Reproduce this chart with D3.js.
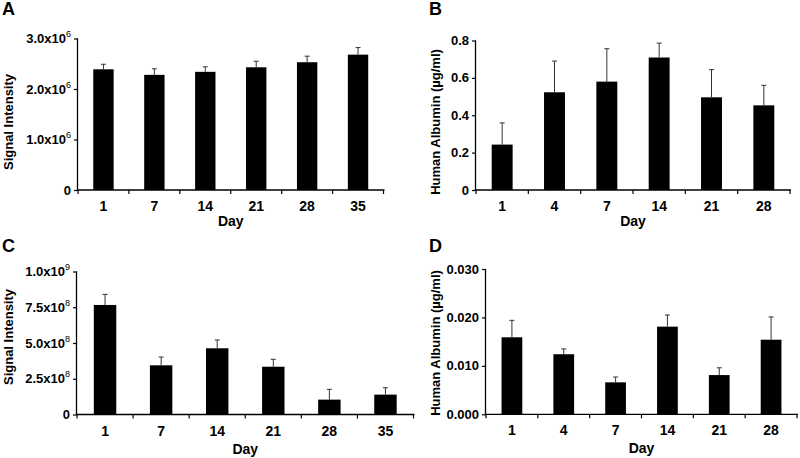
<!DOCTYPE html>
<html><head><meta charset="utf-8">
<script src="https://cdn.jsdelivr.net/npm/d3@7"></script>
<style>body{margin:0;background:#fff}svg{display:block;font-family:"Liberation Sans",Arial,sans-serif;font-weight:bold}</style>
</head><body><svg id="c" width="800" height="458"></svg>
<script>
// Panel A
const daysA = ["1","7","14","21","28","35"];
const valuesA = [2.39e6, 2.28e6, 2.34e6, 2.43e6, 2.53e6, 2.68e6];
const errorsA = [0.10e6, 0.12e6, 0.10e6, 0.12e6, 0.12e6, 0.14e6];
const ticksA = [0, 1e6, 2e6, 3e6];
const tickLabelsA = [["0",""],["1.0x10","6"],["2.0x10","6"],["3.0x10","6"]];
// Panel B
const daysB = ["1","4","7","14","21","28"];
const valuesB = [0.243, 0.523, 0.58, 0.709, 0.496, 0.453];
const errorsB = [0.116, 0.167, 0.176, 0.077, 0.148, 0.107];
const ticksB = [0, 0.2, 0.4, 0.6, 0.8];
const tickLabelsB = [["0",""],["0.2",""],["0.4",""],["0.6",""],["0.8",""]];
// Panel C
const daysC = ["1","7","14","21","28","35"];
const valuesC = [7.66e8, 3.44e8, 4.63e8, 3.34e8, 1.04e8, 1.39e8];
const errorsC = [0.74e8, 0.58e8, 0.58e8, 0.52e8, 0.72e8, 0.48e8];
const ticksC = [0, 2.5e8, 5e8, 7.5e8, 1e9];
const tickLabelsC = [["0",""],["2.5x10","8"],["5.0x10","8"],["7.5x10","8"],["1.0x10","9"]];
// Panel D
const daysD = ["1","4","7","14","21","28"];
const valuesD = [0.0159, 0.0124, 0.0066, 0.0181, 0.0081, 0.0154];
const errorsD = [0.0035, 0.0011, 0.0011, 0.0024, 0.0015, 0.0047];
const ticksD = [0, 0.01, 0.02, 0.03];
const tickLabelsD = [["0.000",""],["0.010",""],["0.020",""],["0.030",""]];

const svg = d3.select("#c");

function panel(o){
  const g = svg.append("g");
  const x = d3.scaleBand().domain(o.days).range([o.x0, o.x1]).paddingInner(0.6).paddingOuter(0.3);
  const y = d3.scaleLinear().domain([0, o.ticks[o.ticks.length-1]]).range([o.y0, o.y1]);
  // bars
  g.selectAll("rect.bar").data(o.values).join("rect")
    .attr("x", (d,i)=>x(o.days[i])).attr("width", x.bandwidth())
    .attr("y", d=>y(d)).attr("height", d=>y(0)-y(d)).attr("fill","#000");
  // error bars
  const eg = g.append("g").attr("stroke","#333").attr("stroke-width",1);
  o.values.forEach((v,i)=>{
    const cx = x(o.days[i]) + x.bandwidth()/2;
    eg.append("line").attr("x1",cx).attr("x2",cx).attr("y1",y(v)).attr("y2",y(v+o.errors[i]));
    eg.append("line").attr("x1",cx-2.5).attr("x2",cx+2.5).attr("y1",y(v+o.errors[i])).attr("y2",y(v+o.errors[i]));
  });
  // y axis
  const ya = g.append("g").attr("transform",`translate(${o.x0},0)`)
    .call(d3.axisLeft(y).tickValues(o.ticks).tickSize(4).tickFormat(""));
  ya.select(".domain").attr("d",`M-0.5,${o.y1}V${o.y0}`).attr("stroke-width",1.3);
  ya.selectAll(".tick line").attr("stroke-width",1.2);
  o.ticks.forEach((t,i)=>{
    const tx = g.append("text").attr("x",o.x0-7).attr("y",y(t)+4.5).attr("text-anchor","end")
      .attr("font-size",13);
    tx.append("tspan").text(o.tickLabels[i][0]);
    if(o.tickLabels[i][1]) tx.append("tspan").attr("font-size",9).attr("font-weight","normal").attr("dy",-6).text(o.tickLabels[i][1]);
  });
  // x axis
  const xa = g.append("g").attr("transform",`translate(0,${o.y0})`);
  xa.append("line").attr("x1",o.x0-1).attr("x2",o.x1+1).attr("y1",0).attr("y2",0).attr("stroke","#000").attr("stroke-width",1.3);
  const bounds = o.days.map(d=>x(d) - x.step()*0.3).concat([o.x1]);
  bounds.forEach(b=>{
    xa.append("line").attr("x1",b).attr("x2",b).attr("y1",0).attr("y2",4).attr("stroke","#000").attr("stroke-width",1.2);
  });
  o.days.forEach(d=>{
    xa.append("text").attr("x",x(d)+x.bandwidth()/2).attr("y",21).attr("text-anchor","middle").attr("font-size",14).text(d);
  });
  xa.append("text").attr("x",(o.x0+o.x1)/2).attr("y",o.dayY).attr("text-anchor","middle").attr("font-size",14).text("Day");
  // y title
  g.append("text").attr("transform",`translate(${o.titleX},${o.titleY}) rotate(-90)`)
    .attr("text-anchor","middle").attr("font-size",13).text(o.title);
  // letter
  g.append("text").attr("x",o.lx).attr("y",o.ly).attr("font-size",18).text(o.letter);
}

panel({days:daysA, values:valuesA, errors:errorsA, ticks:ticksA, tickLabels:tickLabelsA,
  x0:78, x1:383.5, y0:190, y1:38.5, dayY:36, title:"Signal Intensity", titleX:13, titleY:122, letter:"A", lx:2, ly:15});
panel({days:daysB, values:valuesB, errors:errorsB, ticks:ticksB, tickLabels:tickLabelsB,
  x0:476, x1:790, y0:190, y1:40.5, dayY:36, title:"Human Albumin (µg/ml)", titleX:440, titleY:122, letter:"B", lx:429, ly:15});
panel({days:daysC, values:valuesC, errors:errorsC, ticks:ticksC, tickLabels:tickLabelsC,
  x0:77, x1:413.5, y0:414.5, y1:271.5, dayY:39, title:"Signal Intensity", titleX:13, titleY:337, letter:"C", lx:2, ly:252});
panel({days:daysD, values:valuesD, errors:errorsD, ticks:ticksD, tickLabels:tickLabelsD,
  x0:486, x1:797, y0:414.3, y1:269, dayY:39, title:"Human Albumin (µg/ml)", titleX:440, titleY:343, letter:"D", lx:429, ly:252});
</script></body></html>
